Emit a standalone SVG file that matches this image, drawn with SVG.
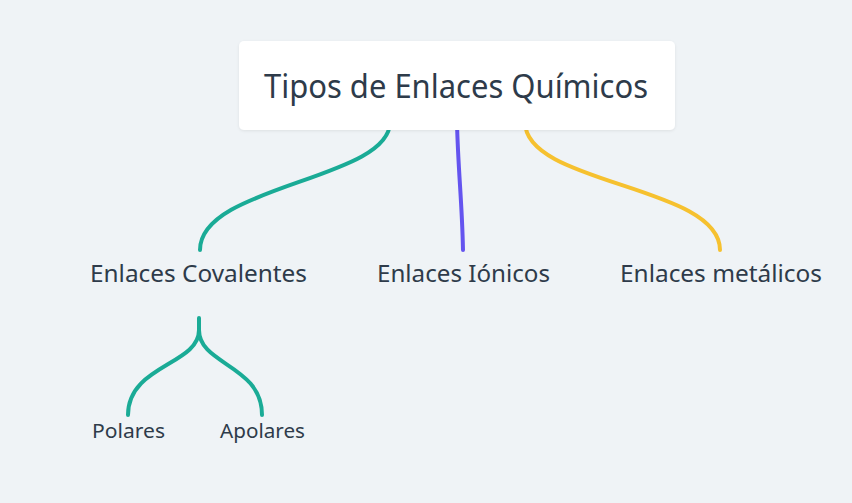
<svg xmlns="http://www.w3.org/2000/svg" width="852" height="503" viewBox="0 0 852 503">
<defs>
<filter id="sh" x="-10%" y="-20%" width="120%" height="140%">
<feDropShadow dx="0" dy="1" stdDeviation="1.5" flood-color="#000" flood-opacity="0.08"/>
</filter>
</defs>
<style>
text{font-family:"Noto Sans","DejaVu Sans",sans-serif;fill:#2e3b4a;text-anchor:middle}
.c{fill:none;stroke-width:4;stroke-linecap:round}
.t{stroke:#1aab96}
.p{stroke:#6454ef}
.y{stroke:#f6c12f}
.l1{font-size:23px}
.l2{font-size:19px}
</style>
<rect width="852" height="503" fill="#eff3f6"/>
<g id="connectors">
<path class="c t" d="M390,122 C390,180 200,185 200,250"/>
<path class="c p" d="M457,122 C458,170 462,200 463,250"/>
<path class="c y" d="M525,122 C525,185 720,185 720,250"/>
<path class="c t" d="M199,318 L199,330 C199,365 128,365 128,415"/>
<path class="c t" d="M199,330 C199,365 262,365 262,415"/>
</g>
<g id="root">
<rect x="239" y="41" width="436" height="89" rx="5" fill="#ffffff" filter="url(#sh)"/>
<text x="456" y="98" font-size="33" textLength="384" lengthAdjust="spacingAndGlyphs">Tipos de Enlaces Químicos</text>
</g>
<g id="covalentes"><text class="l1" x="198.5" y="282" textLength="217" lengthAdjust="spacingAndGlyphs">Enlaces Covalentes</text></g>
<g id="ionicos"><text class="l1" x="463.5" y="282" textLength="173" lengthAdjust="spacingAndGlyphs">Enlaces Iónicos</text></g>
<g id="metalicos"><text class="l1" x="721" y="282" textLength="202" lengthAdjust="spacingAndGlyphs">Enlaces metálicos</text></g>
<g id="polares"><text class="l2" x="128.5" y="438" textLength="73" lengthAdjust="spacingAndGlyphs">Polares</text></g>
<g id="apolares"><text class="l2" x="262.5" y="438" textLength="85" lengthAdjust="spacingAndGlyphs">Apolares</text></g>
</svg>
